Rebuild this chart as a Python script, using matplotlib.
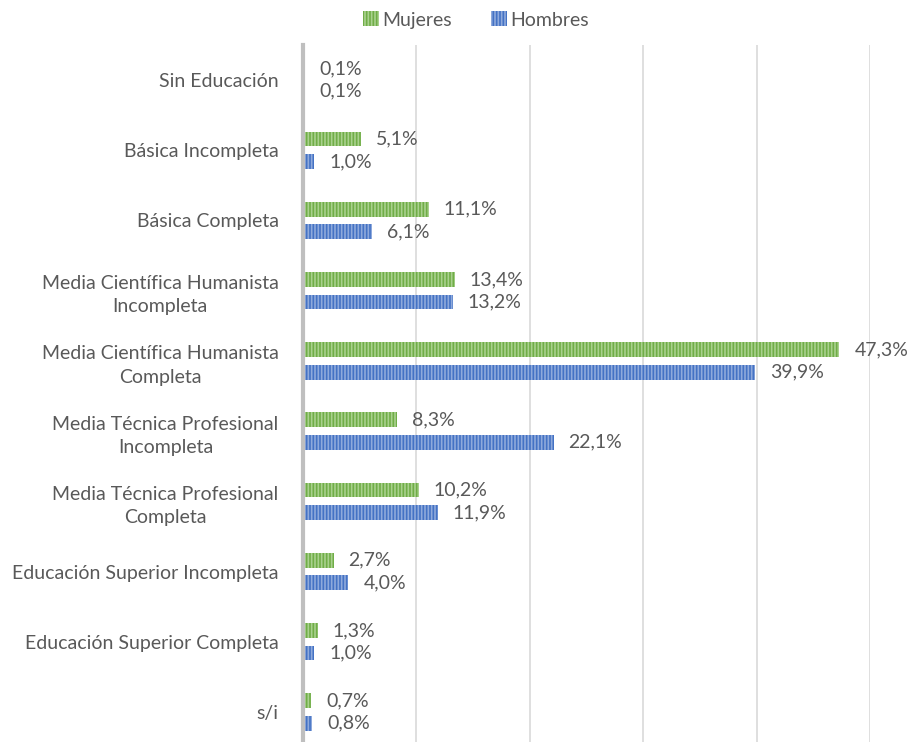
import matplotlib
matplotlib.use("Agg")
import matplotlib.pyplot as plt
import numpy as np

plt.rcParams['font.family'] = ['Lato', 'DejaVu Sans']
plt.rcParams['hatch.linewidth'] = 1.2

categories = [
    "Sin Educación",
    "Básica Incompleta",
    "Básica Completa",
    "Media Científica Humanista\nIncompleta",
    "Media Científica Humanista\nCompleta",
    "Media Técnica Profesional\nIncompleta",
    "Media Técnica Profesional\nCompleta",
    "Educación Superior Incompleta",
    "Educación Superior Completa",
    "s/i",
]
mujeres = [0.1, 5.1, 11.1, 13.4, 47.3, 8.3, 10.2, 2.7, 1.3, 0.7]
hombres = [0.1, 1.0, 6.1, 13.2, 39.9, 22.1, 11.9, 4.0, 1.0, 0.8]
series_names = ["Mujeres", "Hombres"]

fig = plt.figure(figsize=(9.1, 7.42), dpi=100)
ax = fig.add_axes([303/910, -5/742, (870-303)/910, (747-45)/742])

y = np.arange(len(categories))
h = 0.21
off = 0.16
text_color = '#595959'
fs = 14

b1 = ax.barh(y - off, mujeres, height=h, color='#70AD47', edgecolor='#A9D18E',
             hatch='|||||', linewidth=0, label=series_names[0], zorder=3)
b2 = ax.barh(y + off, hombres, height=h, color='#4472C4', edgecolor='#8FAADC',
             hatch='|||||', linewidth=0, label=series_names[1], zorder=3)

for bars, vals in ((b1, mujeres), (b2, hombres)):
    for bar, v in zip(bars, vals):
        ax.annotate(f"{v:.1f}%".replace('.', ','),
                    xy=(bar.get_width(), bar.get_y() + bar.get_height()/2),
                    xytext=(15, 0), textcoords='offset pixels',
                    ha='left', va='center', fontsize=fs, color=text_color)

ax.set_xlim(0, 50)
ax.set_ylim(len(categories) - 0.5, -0.5)
ax.set_xticks([10, 20, 30, 40, 50])
ax.xaxis.grid(True, color='#D9D9D9', linewidth=1.2, zorder=0)
ax.tick_params(axis='x', bottom=False, labelbottom=False)
ax.set_yticks(y)
ax.set_yticklabels(categories, fontsize=fs, color=text_color, multialignment='center',
                   linespacing=1.45)
ax.tick_params(axis='y', left=False, pad=14)
for s in ['top', 'right', 'bottom']:
    ax.spines[s].set_visible(False)
ax.spines['left'].set_color('#BFBFBF')
ax.spines['left'].set_linewidth(3)
ax.spines['left'].set_zorder(4)

fig.legend(handles=[b1, b2], labels=series_names, loc='center', bbox_to_anchor=(476/910, 1 - 20/742),
           ncol=2, frameon=False, fontsize=fs, handlelength=0.8, handleheight=0.8,
           handletextpad=0.2, columnspacing=2.0, labelcolor=text_color)

fig.savefig("out.png", dpi=100)
